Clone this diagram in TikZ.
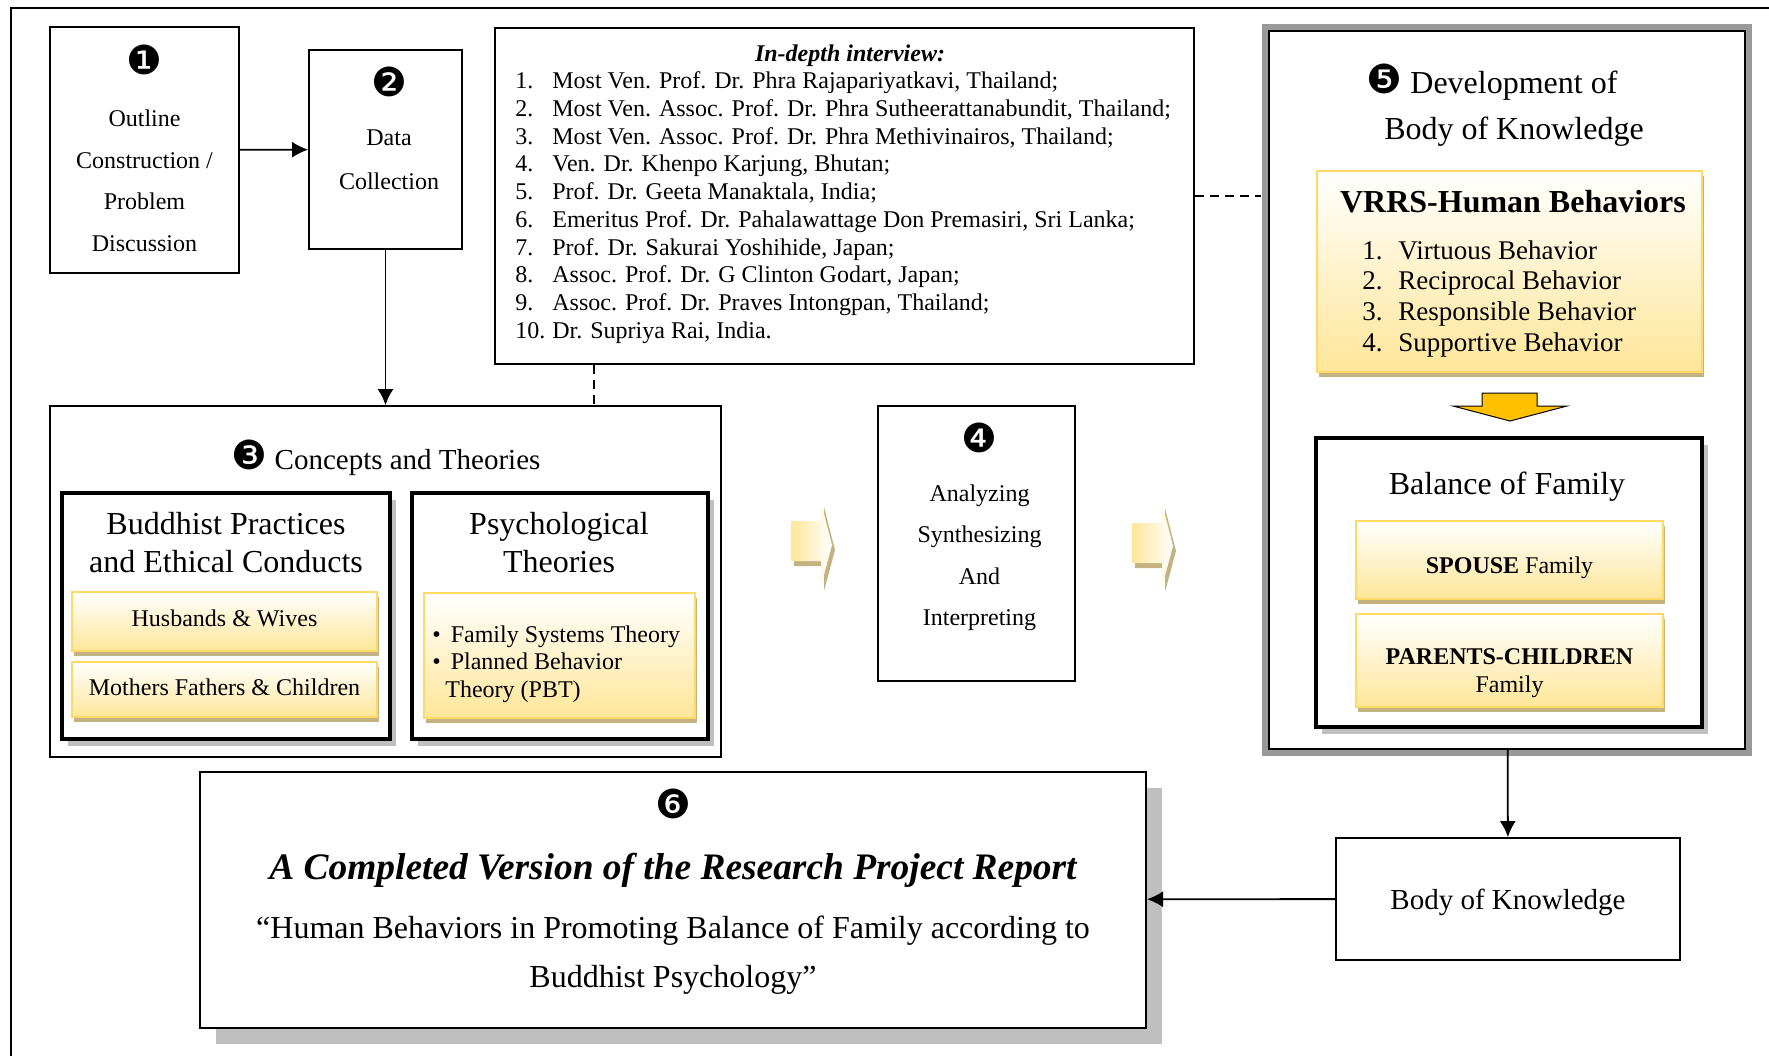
\documentclass[tikz,border=0pt]{standalone}
\usepackage{fontspec}
\setmainfont{Liberation Serif}
\newfontfamily\dingfont{DejaVu Sans}
\usepackage{tikz}
\usetikzlibrary{positioning,shadows,arrows.meta}

\definecolor{goldline}{HTML}{FFD966}
\definecolor{goldfill}{HTML}{FFE699}
\definecolor{tanshadow}{HTML}{C4B280}
\definecolor{greyshadow}{HTML}{BFBFBF}
\definecolor{framegrey}{HTML}{999999}
\definecolor{arrowgold}{HTML}{FFC000}

\newcommand{\dnum}[1]{{\dingfont\fontsize{20pt}{20pt}\selectfont #1}}

\tikzset{
  stepbox/.style={draw, line width=0.9pt, inner sep=0pt},
  heavybox/.style={draw, line width=2pt, fill=white, inner sep=0pt,
    drop shadow={shadow xshift=3pt, shadow yshift=-3.5pt, fill=greyshadow, opacity=1}},
  goldbox/.style={draw=goldline, line width=1pt, top color=white, bottom color=goldfill,
    inner sep=0pt, drop shadow={shadow xshift=1.2pt, shadow yshift=-2.5pt, fill=tanshadow, opacity=1}},
  reportbox/.style={draw, line width=1pt, fill=white, inner sep=0pt,
    drop shadow={shadow xshift=8pt, shadow yshift=-8pt, fill=greyshadow, opacity=1}},
  bigframe/.style={draw, line width=1.2pt, fill=white, inner sep=0pt,
    preaction={draw=framegrey, line width=7pt}},
  txt/.style={inner sep=0pt, align=center, font=\fontsize{12pt}{13.8pt}\selectfont},
  flow/.style={line width=0.9pt, -{Latex[length=8pt, width=8pt]}},
  link/.style={line width=0.8pt, dash pattern=on 4.5pt off 3pt},
}

\begin{document}
\begin{tikzpicture}[x=0.5pt, y=-0.5pt]
      \useasboundingbox (0,0) rectangle (1769,1056);
      \draw[line width=1pt] (11,1056) |- (1769,8);
      % Define nodes
      \node[stepbox, txt, minimum width=94.5pt, minimum height=123pt, text depth=1.9pt,
        font=\fontsize{12pt}{20.75pt}\selectfont] (outline) at (144.5,150)
        {\dnum{❶}\\[5.45pt]Outline\\Construction /\\Problem\\Discussion};
      \node[stepbox, minimum width=76.5pt, minimum height=99.5pt] (collect) at (385.5,149.5) {};
      \node[txt, font=\fontsize{12pt}{22pt}\selectfont] (collecttext) at (389,128.3)
        {\dnum{❷}\\[2.1pt]Data\\Collection};
      \node[stepbox, minimum width=349.5pt, minimum height=168pt] (interview) at (844.5,196) {};
      \node[txt, font=\bfseries\itshape\fontsize{12pt}{13.8pt}\selectfont] (interviewhead) at (850,56)
        {In-depth interview:};
      \node[txt, align=left, anchor=north west, font=\fontsize{12pt}{13.85pt}\selectfont] (interviewlist) at (515,71.5)
        {\makebox[18.5pt][l]{1.}Most Ven. Prof. Dr. Phra Rajapariyatkavi, Thailand;\\
         \makebox[18.5pt][l]{2.}Most Ven. Assoc. Prof. Dr. Phra Sutheerattanabundit, Thailand;\\
         \makebox[18.5pt][l]{3.}Most Ven. Assoc. Prof. Dr. Phra Methivinairos, Thailand;\\
         \makebox[18.5pt][l]{4.}Ven. Dr. Khenpo Karjung, Bhutan;\\
         \makebox[18.5pt][l]{5.}Prof. Dr. Geeta Manaktala, India;\\
         \makebox[18.5pt][l]{6.}Emeritus Prof. Dr. Pahalawattage Don Premasiri, Sri Lanka;\\
         \makebox[18.5pt][l]{7.}Prof. Dr. Sakurai Yoshihide, Japan;\\
         \makebox[18.5pt][l]{8.}Assoc. Prof. Dr. G Clinton Godart, Japan;\\
         \makebox[18.5pt][l]{9.}Assoc. Prof. Dr. Praves Intongpan, Thailand;\\
         \makebox[18.5pt][l]{10.}Dr. Supriya Rai, India.};
      \node[stepbox, minimum width=335.5pt, minimum height=175.5pt] (concepts) at (385.5,581.5) {};
      \node[txt, font=\fontsize{14.5pt}{17pt}\selectfont] (conceptstext) at (386,458)
        {\dnum{❸}\ Concepts and Theories};
      \node[heavybox, minimum width=164pt, minimum height=123pt] (buddhist) at (226,616) {};
      \node[heavybox, minimum width=148pt, minimum height=123pt, right=9pt of buddhist] (psych) {};
      \node[txt, font=\fontsize{16pt}{19pt}\selectfont] (buddhisttext) at (226,543)
        {Buddhist Practices\\and Ethical Conducts};
      \node[txt, font=\fontsize{16pt}{19pt}\selectfont] (psychtext) at (559,543)
        {Psychological\\Theories};
      \node[goldbox, txt, minimum width=152.5pt, minimum height=29.5pt, text depth=3.5pt] (spouses) at (224.5,621.5)
        {Husbands \& Wives};
      \node[goldbox, txt, minimum width=152.5pt, minimum height=27.5pt, text depth=2.3pt, below=4.5pt of spouses] (parents)
        {Mothers Fathers \& Children};
      \node[goldbox, minimum width=135.5pt, minimum height=62.5pt] (theories) at (559.5,655.5) {};
      \node[txt, align=left, anchor=west] (theorytext) at (432,664)
        {•\hspace{5pt}Family Systems Theory\\•\hspace{5pt}Planned Behavior\\\hspace*{6.5pt}Theory (PBT)};
      \node[stepbox, minimum width=98.5pt, minimum height=137.5pt] (analyze) at (976.5,543.5) {};
      \node[txt, font=\fontsize{12pt}{20.7pt}\selectfont] (analyzetext) at (979.5,527)
        {\dnum{❹}\\[3.6pt]Analyzing\\Synthesizing\\And\\Interpreting};
      \node[bigframe, minimum width=238pt, minimum height=359pt] (develop) at (1507,390) {};
      \node[txt, font=\fontsize{16pt}{23pt}\selectfont] (developtext) at (1514,105)
        {\dnum{❺}\ Development of\hspace*{22pt}\\Body of Knowledge};
      \node[goldbox, minimum width=192.5pt, minimum height=100.5pt] (vrrs) at (1509.5,271.5) {};
      \node[txt, font=\bfseries\fontsize{16pt}{19pt}\selectfont] (vrrshead) at (1513,202)
        {VRRS-Human Behaviors};
      \node[txt, align=left, anchor=north west, font=\fontsize{13.5pt}{15.4pt}\selectfont] (vrrslist) at (1362,240)
        {\makebox[18pt][l]{1.}Virtuous Behavior\\
         \makebox[18pt][l]{2.}Reciprocal Behavior\\
         \makebox[18pt][l]{3.}Responsible Behavior\\
         \makebox[18pt][l]{4.}Supportive Behavior};
      \node[heavybox, minimum width=193pt, minimum height=144.5pt] (balance) at (1509,582.5) {};
      \node[txt, font=\fontsize{16pt}{19pt}\selectfont] (balancetext) at (1507,487) {Balance of Family};
      \node[goldbox, minimum width=153.5pt, minimum height=39pt] (spouse) at (1509.5,560) {};
      \node[goldbox, minimum width=153.5pt, minimum height=46.5pt, below=6.5pt of spouse] (parentchild) {};
      \node[txt] (spousetext) at (1509.5,568) {\textbf{SPOUSE} Family};
      \node[txt, font=\fontsize{12pt}{14pt}\selectfont] (parentchildtext) at (1509.5,673)
        {\textbf{PARENTS-CHILDREN}\\Family};
      \node[stepbox, txt, minimum width=172pt, minimum height=61pt, text height=13.4pt,
        font=\fontsize{14.5pt}{17pt}\selectfont] (knowledge) at (1508,899) {Body of Knowledge};
      \node[reportbox, minimum width=473pt, minimum height=128pt] (report) at (673,899.5) {};
      \node[txt, font=\fontsize{16pt}{24.5pt}\selectfont] (reporttext) at (673,891.5)
        {\dnum{❻}\\[6pt]{\bfseries\itshape\fontsize{18.7pt}{22pt}\selectfont A Completed Version of the Research Project Report}\\[5pt]
         “Human Behaviors in Promoting Balance of Family according to\\Buddhist Psychology”};
      % Hollow arrows
      \fill[tanshadow] (794,526) -- (824,526) -- (824,507) -- (835,550) -- (824,591) -- (824,566) -- (794,566) -- cycle;
      \shade[left color=goldfill, right color=white] (791,521) -- (821,521) -- (821,502) -- (832,545)
        -- (821,586) -- (821,561) -- (791,561) -- cycle;
      \fill[tanshadow] (1135,528) -- (1165,528) -- (1165,508) -- (1176,551) -- (1165,592) -- (1165,568) -- (1135,568) -- cycle;
      \shade[left color=goldfill, right color=white] (1132,523) -- (1162,523) -- (1162,503) -- (1173,546)
        -- (1162,587) -- (1162,563) -- (1132,563) -- cycle;
      \draw[fill=arrowgold, line width=0.5pt] (1482,393) -- (1537,393) -- (1537,406) -- (1567,406)
        -- (1510,421) -- (1453,406) -- (1482,406) -- cycle;
      % Connect nodes
      \coordinate (dashx) at (594,0);
      \draw[flow] (outline) -- (collect);
      \draw[flow] (collect) -- (concepts);
      \draw[link] (interview.south -| dashx) -- (concepts.north -| dashx);
      \draw[link, shorten >=3.5pt] (interview.east) -- (interview.east -| develop.west);
      \draw[flow] (develop) -- (knowledge);
      \draw[flow] (knowledge) -- (report);
\end{tikzpicture}
\end{document}
